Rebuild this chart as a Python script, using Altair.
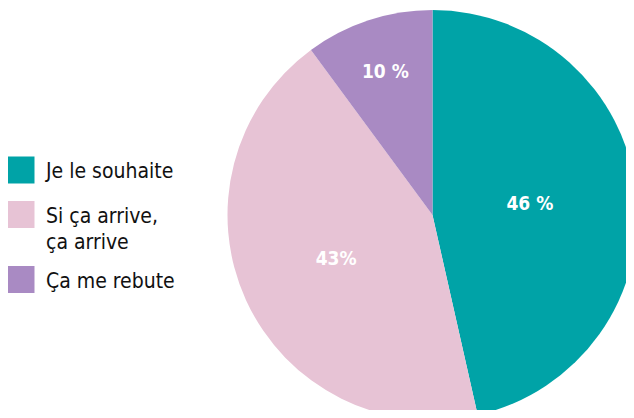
import altair as alt
import pandas as pd

categories = ["Je le souhaite", "Si ça arrive,\nça arrive", "Ça me rebute"]
values = [46, 43, 10]
labels = ["46 %", "43%", "10 %"]
colors = ["#00A3A7", "#E7C3D5", "#A98AC3"]

df = pd.DataFrame({
    "cat": categories,
    "value": values,
    "label": labels,
    "idx": list(range(len(categories))),
})

FONT = "DejaVu Sans Condensed"
CX, CY, R = 424.5, 207, 205

color = alt.Color("cat:N", scale=alt.Scale(domain=categories, range=colors), legend=None)
order = alt.Order("idx:Q")

base = alt.Chart(df)

arcs = base.mark_arc(radius=R, stroke=None).encode(
    theta=alt.Theta("value:Q", stack=True),
    color=color,
    order=order,
    x=alt.value(CX),
    y=alt.value(CY),
)

slice_labels = base.transform_window(
    cum="sum(value)", sort=[alt.SortField("idx")], frame=[None, 0]
).transform_joinaggregate(
    total="sum(value)"
).transform_calculate(
    tm="(datum.cum - datum.value / 2) / datum.total * 2 * PI",
    r="datum.idx == 0 ? 98 : (datum.idx == 1 ? 106 : 151)",
).mark_text(font=FONT, fontSize=19, fontWeight="bold", color="white").encode(
    theta=alt.Theta("tm:Q", scale=None, stack=None),
    radius=alt.Radius("r:Q", scale=None),
    text="label:N",
    x=alt.value(CX),
    y=alt.value(CY),
)

ypos = alt.Y("idx:Q", scale=alt.Scale(type="linear", domain=[0, 1, 2], range=[162, 206.5, 271.5], nice=False, zero=False), axis=None)

squares = base.mark_point(shape="square", filled=True, size=729, opacity=1, strokeWidth=0).encode(
    x=alt.value(13),
    y=ypos,
    color=color,
)

legend_text = base.mark_text(
    font=FONT, fontSize=21, align="left", baseline="alphabetic", dy=8,
    lineBreak="\n", lineHeight=26, color="#111111"
).encode(
    x=alt.value(38),
    y=ypos,
    text="cat:N",
)

chart = alt.layer(arcs, slice_labels, squares, legend_text).properties(
    width=618, height=402, padding=0, autosize="none", background="white"
).configure_view(stroke=None)

chart.save("out.html", embed_options={"renderer": "svg", "actions": False})
